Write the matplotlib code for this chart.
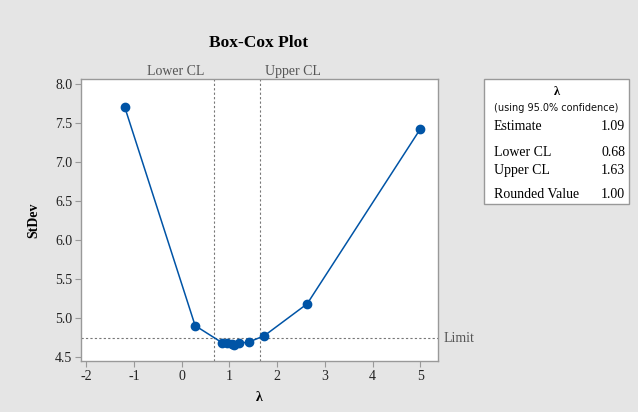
import matplotlib
matplotlib.use("Agg")
import matplotlib.pyplot as plt

lam = [-1.20, 0.28, 0.84, 0.94, 1.05, 1.10, 1.19, 1.40, 1.73, 2.63, 5.00]
stdev = [7.71, 4.90, 4.683, 4.675, 4.663, 4.654, 4.675, 4.688, 4.77, 5.18, 7.42]
lower_cl = 0.68
upper_cl = 1.63
limit = 4.74
xticks = [-2, -1, 0, 1, 2, 3, 4, 5]
yticks = [4.5, 5.0, 5.5, 6.0, 6.5, 7.0, 7.5, 8.0]
box_labels = ["Estimate", "Lower CL", "Upper CL", "Rounded Value"]
box_values = ["1.09", "0.68", "1.63", "1.00"]

serif = "Liberation Serif"
bg = "#e5e5e5"
blue = "#0054a6"

fig = plt.figure(figsize=(6.38, 4.12), dpi=100, facecolor=bg)
ax = fig.add_axes([0.1265, 0.1226, 0.687 - 0.1265, 0.8083 - 0.1226])
ax.set_facecolor("white")

ax.plot(lam, stdev, color=blue, lw=1.1, marker="o", ms=6.0, mfc=blue, mec=blue, zorder=3)
ax.axvline(lower_cl, color="#777777", ls=(0, (2, 2)), lw=0.8, zorder=1)
ax.axvline(upper_cl, color="#777777", ls=(0, (2, 2)), lw=0.8, zorder=1)
ax.axhline(limit, color="#777777", ls=(0, (2, 2)), lw=0.8, zorder=1)

ax.set_xlim(-2.12, 5.38)
ax.set_ylim(4.44, 8.064)
ax.set_xticks(xticks)
ax.set_xticklabels([str(t) for t in xticks], fontfamily=serif, fontsize=10)
ax.set_yticks(yticks)
ax.set_yticklabels([f"{t:.1f}" for t in yticks], fontfamily=serif, fontsize=10)
ax.tick_params(direction="out", length=4, color="#999999", labelcolor="#222222", pad=2)
for s in ax.spines.values():
    s.set_color("#999999")
    s.set_linewidth(1.0)

ax.set_xlabel("λ", fontfamily=serif, fontweight="bold", fontsize=10, labelpad=6)
ax.set_ylabel("StDev", fontfamily=serif, fontweight="bold", fontsize=10, labelpad=11)

fig.text(259 / 638, 1 - 43 / 412, "Box-Cox Plot", fontfamily=serif, fontweight="bold",
         fontsize=12.5, ha="center", va="center")

trans = ax.get_xaxis_transform()
ax.text(lower_cl - 0.2, 1.004, "Lower CL", transform=trans, ha="right", va="bottom",
        fontfamily=serif, fontsize=10, color="#555555")
ax.text(upper_cl + 0.12, 1.004, "Upper CL", transform=trans, ha="left", va="bottom",
        fontfamily=serif, fontsize=10, color="#555555")
ax.text(5.48, limit, "Limit", transform=ax.transData, ha="left", va="center",
        fontfamily=serif, fontsize=10, color="#555555", clip_on=False)

# info box
bx0, bx1 = 484 / 638, 629 / 638
by0, by1 = 1 - 204 / 412, 1 - 79 / 412
rect = plt.Rectangle((bx0, by0), bx1 - bx0, by1 - by0, transform=fig.transFigure,
                     facecolor="white", edgecolor="#999999", lw=1.0)
fig.patches.append(rect)
cx = (bx0 + bx1) / 2
fig.text(cx, 1 - 92 / 412, "λ", fontfamily=serif, fontweight="bold", fontsize=9,
         ha="center", va="center")
fig.text(cx, 1 - 108 / 412, "(using 95.0% confidence)", fontfamily="DejaVu Sans",
         fontsize=7, color="#111111", ha="center", va="center")
rows_y = [127, 153, 170, 194]
for lab, val, yy in zip(box_labels, box_values, rows_y):
    fig.text(494 / 638, 1 - yy / 412, lab, fontfamily=serif, fontsize=10,
             ha="left", va="center")
    fig.text(625 / 638, 1 - yy / 412, val, fontfamily=serif, fontsize=10,
             ha="right", va="center")

fig.savefig("out.png", dpi=100, facecolor=bg)
